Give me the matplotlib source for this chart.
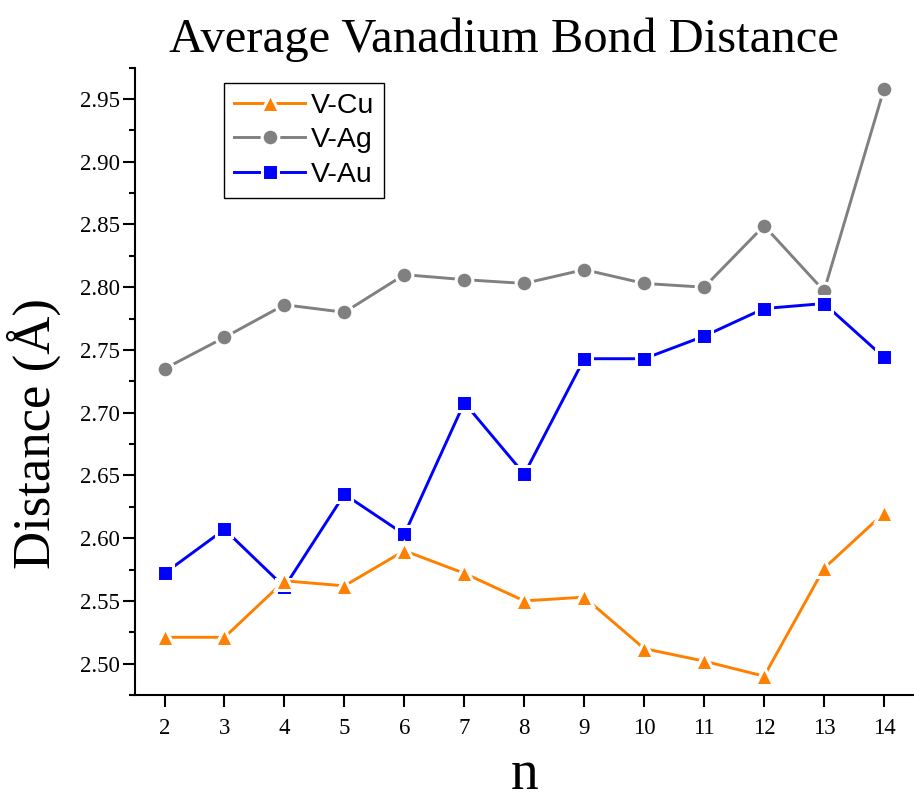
import matplotlib
matplotlib.use("Agg")
import matplotlib.pyplot as plt
from matplotlib.ticker import MultipleLocator, FormatStrFormatter

# cluster size n
n = [2, 3, 4, 5, 6, 7, 8, 9, 10, 11, 12, 13, 14]

# average V-M bond distances (Angstrom)
v_cu = [2.521, 2.521, 2.566, 2.562, 2.590, 2.572, 2.550, 2.553, 2.512, 2.502, 2.490, 2.576, 2.620]
v_ag = [2.735, 2.760, 2.786, 2.780, 2.810, 2.806, 2.803, 2.814, 2.803, 2.800, 2.849, 2.797, 2.958]
v_au = [2.572, 2.607, 2.561, 2.635, 2.603, 2.708, 2.651, 2.743, 2.743, 2.761, 2.783, 2.787, 2.744]

serif = "Liberation Serif"
sans = "Liberation Sans"

fig = plt.figure(figsize=(9.14, 8.02), dpi=100)
ax = fig.add_axes([0.1472, 0.1334, 0.8528, 0.7823])

mew = 2.2  # white rim round markers, gives the little gaps in the lines
l_ag, = ax.plot(n, v_ag, color="#808080", lw=2.1, marker="o", ms=9.8 + mew,
                mec="white", mew=mew, label="V-Ag", zorder=2)
l_au, = ax.plot(n, v_au, color="#0000FF", lw=2.1, marker="s", ms=9.0 + mew,
                mec="white", mew=mew, label="V-Au", zorder=3)
l_cu, = ax.plot(n, v_cu, color="#FF8000", lw=2.1, marker="^", ms=10.5 + mew,
                mec="white", mew=mew, label="V-Cu", zorder=4)

ax.set_xlim(1.5, 14.5)
ax.set_ylim(2.475, 2.975)
ax.set_xticks(n)
ax.yaxis.set_major_locator(MultipleLocator(0.05))
ax.yaxis.set_minor_locator(MultipleLocator(0.025))
ax.yaxis.set_major_formatter(FormatStrFormatter("%.2f"))

for s in ["top", "right"]:
    ax.spines[s].set_visible(False)
for s in ["left", "bottom"]:
    ax.spines[s].set_linewidth(1.5)

ax.tick_params(axis="both", which="major", direction="out", length=8.5, width=1.5,
               labelsize=16.5)
ax.tick_params(axis="y", which="minor", direction="out", length=4.5, width=1.5)
ax.tick_params(axis="x", pad=8)
ax.tick_params(axis="y", pad=2)
for lab in ax.get_xticklabels() + ax.get_yticklabels():
    lab.set_fontfamily(serif)

leg = ax.legend(handles=[l_cu, l_ag, l_au], loc="upper left",
                bbox_to_anchor=(0.115, 0.976), borderaxespad=0,
                prop={"family": sans, "size": 20.5}, handlelength=2.5,
                handletextpad=0.2, labelspacing=0.3, borderpad=0.35,
                fancybox=False, framealpha=1, edgecolor="black")
leg.get_frame().set_linewidth(1.0)

fig.text(0.551, 0.935, "Average Vanadium Bond Distance", family=serif, size=35,
         ha="center", va="baseline")
fig.text(0.037, 0.46, "Distance (Å)", family=serif, size=38, rotation=90,
         ha="center", va="center")
fig.text(0.574, 0.016, "n", family=serif, size=40, ha="center", va="baseline")

fig.savefig("out.png", dpi=100)
